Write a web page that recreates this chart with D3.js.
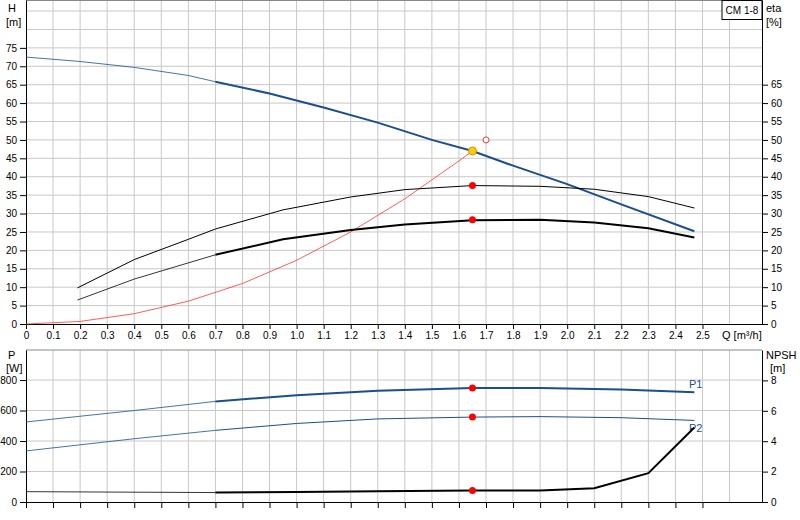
<!DOCTYPE html>
<html><head><meta charset="utf-8">
<script src="https://cdn.jsdelivr.net/npm/d3@7"></script>
<style>body{margin:0;background:#fff}text{font-family:"Liberation Sans",Arial,sans-serif;font-size:11px;fill:#000}</style>
</head><body><div id="chart"></div>
<script>
// Data
const qTicks = [0,0.1,0.2,0.3,0.4,0.5,0.6,0.7,0.8,0.9,1.0,1.1,1.2,1.3,1.4,1.5,1.6,1.7,1.8,1.9,2.0,2.1,2.2,2.3,2.4,2.5];
const headQ  = [0,0.2,0.4,0.6,0.7,0.9,1.1,1.3,1.5,1.65,1.8,2.0,2.2,2.47];
const headH  = [72.5,71.3,69.7,67.5,65.8,62.6,58.8,54.7,50,47,43,38,32.5,25.2];
const eta1Q  = [0.19,0.4,0.6,0.7,0.95,1.2,1.4,1.65,1.9,2.1,2.3,2.47];
const eta1   = [9.8,17.5,23,25.8,31,34.5,36.5,37.6,37.4,36.6,34.6,31.5];
const eta2   = [6.5,12.2,16.6,18.8,23,25.5,27,28.2,28.3,27.6,26,23.5];
const sysQ   = [0,0.2,0.4,0.6,0.8,1.0,1.2,1.4,1.6,1.65];
const sysH   = [0,0.7,2.8,6.2,11,17.3,25,34,44.3,47];
const powQ   = [0,0.4,0.7,1.0,1.3,1.65,1.9,2.2,2.47];
const p1     = [525,600,660,700,730,747,747,738,720];
const p2     = [335,415,470,515,545,557,560,553,535];
const npshQ  = [0,0.7,1.0,1.3,1.65,1.9,2.1,2.3,2.47];
const npsh   = [0.68,0.62,0.65,0.7,0.75,0.75,0.9,1.9,4.9];
const duty   = {q:1.65, h:47, e1:37.6, e2:28.3, p1:747, p2:557, npsh:0.75};

const svg = d3.select("#chart").append("svg").attr("width",800).attr("height",520);
const x = d3.scaleLinear().domain([0,2.72]).range([26,762]);
const yH = d3.scaleLinear().domain([0,88]).range([324,0]);
const yP = d3.scaleLinear().domain([0,997]).range([502,350]);
const yN = d3.scaleLinear().domain([0,10]).range([502,350]);
const grid = "#c8c8c8", blue = "#1a4f8c";

// grids
const gx = qTicks.filter(q => q > 0);
[[0,324],[350,502]].forEach(([t,b]) => {
  svg.selectAll(null).data(gx).enter().append("line")
    .attr("x1",d=>x(d)).attr("x2",d=>x(d)).attr("y1",t).attr("y2",b)
    .attr("stroke",grid);
  svg.append("line").attr("x1",x(2.6)).attr("x2",x(2.6)).attr("y1",t).attr("y2",b).attr("stroke",grid);
});
svg.selectAll(null).data(d3.range(5,90,5)).enter().append("line")
  .attr("x1",26).attr("x2",762).attr("y1",d=>yH(d)).attr("y2",d=>yH(d)).attr("stroke",grid);
svg.selectAll(null).data([200,400,600,800]).enter().append("line")
  .attr("x1",26).attr("x2",762).attr("y1",d=>yP(d)).attr("y2",d=>yP(d)).attr("stroke",grid);
svg.append("line").attr("x1",26).attr("x2",762).attr("y1",350).attr("y2",350).attr("stroke","#888");
svg.append("line").attr("x1",26).attr("x2",762).attr("y1",0.5).attr("y2",0.5).attr("stroke","#888");

// axes
const ft = d3.format(".1f");
svg.append("g").attr("transform","translate(0,324)")
  .call(d3.axisBottom(x).tickValues(qTicks).tickFormat(d=>d===0?"0":ft(d)).tickSizeInner(5).tickSizeOuter(0));
svg.append("g").attr("transform","translate(26,0)")
  .call(d3.axisLeft(yH).tickValues(d3.range(0,80,5)).tickSizeOuter(0));
svg.append("g").attr("transform","translate(762,0)")
  .call(d3.axisRight(yH).tickValues(d3.range(0,70,5)).tickSizeOuter(0));
svg.append("g").attr("transform","translate(0,502)")
  .call(d3.axisBottom(x).tickValues(qTicks).tickFormat("").tickSizeOuter(0));
svg.append("g").attr("transform","translate(26,0)")
  .call(d3.axisLeft(yP).tickValues([0,200,400,600,800]).tickSizeOuter(0));
svg.append("g").attr("transform","translate(762,0)")
  .call(d3.axisRight(yN).tickValues([0,2,4,6,8]).tickSizeOuter(0));
svg.selectAll(".domain").attr("stroke","#000");
svg.selectAll(".tick text").style("font-size","10px");

// labels
const lab = (t,xx,yy,a="start") => svg.append("text").text(t).attr("x",xx).attr("y",yy).attr("text-anchor",a);
lab("H",8,12); lab("[m]",6,26);
lab("eta",766,12); lab("[%]",766,26);
lab("Q [m³/h]",722,339);
lab("P",8,359); lab("[W]",6,372);
lab("NPSH",766,359); lab("[m]",770,372);
svg.append("rect").attr("x",722).attr("y",0.5).attr("width",40).attr("height",19).attr("fill","#fff").attr("stroke","#000");
lab("CM 1-8",742,14,"middle").style("font-size","10px");
lab("P1",689,388).style("fill",blue);
lab("P2",689,432).style("fill",blue);

// curves
const line = (qs,vs,ys) => d3.line().x((d,i)=>x(qs[i])).y(d=>ys(d))(vs);
const split = (qs,vs,q0) => { const i=qs.indexOf(q0); return [[qs.slice(0,i+1),vs.slice(0,i+1)],[qs.slice(i),vs.slice(i)]]; };
const draw = (qs,vs,ys,col,w1,w2) => {
  const [a,b] = split(qs,vs,0.7);
  svg.append("path").attr("d",line(a[0],a[1],ys)).attr("fill","none").attr("stroke",col).attr("stroke-width",w1);
  svg.append("path").attr("d",line(b[0],b[1],ys)).attr("fill","none").attr("stroke",col).attr("stroke-width",w2);
};
svg.append("path").attr("d",line(sysQ,sysH,yH)).attr("fill","none").attr("stroke","#f33").attr("stroke-width",0.8);
draw(headQ,headH,yH,blue,0.8,2);
svg.append("path").attr("d",line(eta1Q,eta1,yH)).attr("fill","none").attr("stroke","#000").attr("stroke-width",1);
draw(eta1Q,eta2,yH,"#000",0.8,2);
draw(powQ,p1,yP,blue,0.8,2);
draw(powQ,p2,yP,blue,0.8,1);
draw(npshQ,npsh,yN,"#000",0.8,2);

// points
const dot = (q,v,ys,f,s,r=3.5) => svg.append("circle").attr("cx",x(q)).attr("cy",ys(v)).attr("r",r).attr("fill",f).attr("stroke",s);
dot(1.7,50,yH,"#fff","#f33",3);
dot(duty.q,duty.h,yH,"#fc0","#c90",4);
dot(duty.q,duty.e1,yH,"red","none");
dot(duty.q,duty.e2,yH,"red","none");
dot(duty.q,duty.p1,yP,"red","none");
dot(duty.q,duty.p2,yP,"red","none");
dot(duty.q,duty.npsh,yN,"red","none");
</script></body></html>
